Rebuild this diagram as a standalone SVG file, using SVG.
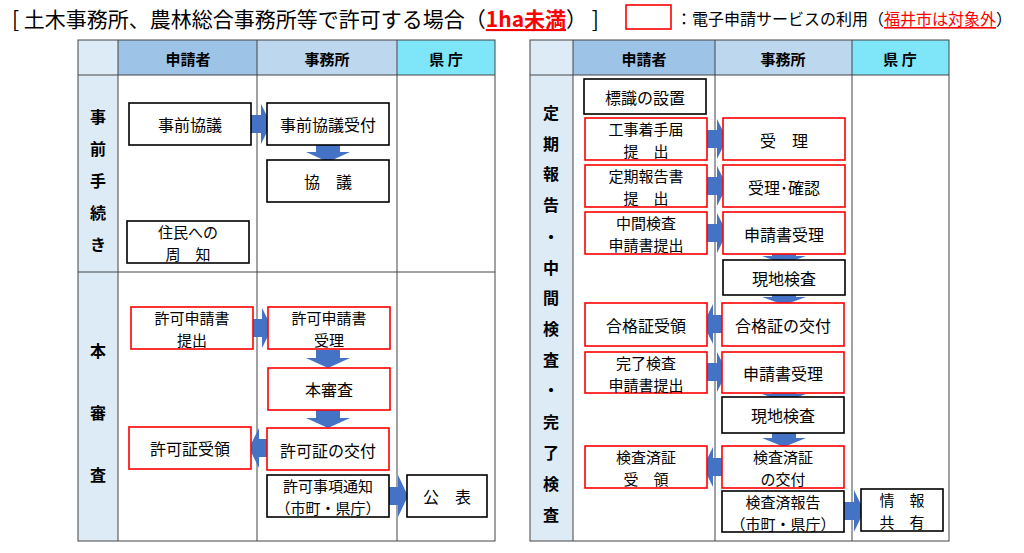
<svg xmlns="http://www.w3.org/2000/svg" width="1024" height="553" viewBox="0 0 1024 553">
<style>
text{font-family:"Noto Sans CJK JP","Noto Sans",sans-serif;font-size:16px;fill:#000;text-anchor:middle;dominant-baseline:central}
.s{font-size:15px}
.t{font-size:21px;text-anchor:start}
.lg{font-size:16px;text-anchor:start}
.vl{font-weight:bold;font-size:16px}
.hd{font-weight:bold;font-size:15px}
.b{fill:#fff;stroke:#000;stroke-width:1.6}
.r{fill:#fff;stroke:#f00;stroke-width:1.6}
.g{fill:none;stroke:#444;stroke-width:1}
.a{fill:#4472C4}
</style>
<rect width="1024" height="553" fill="#fff"/>
<g id="title">
<text class="t" x="12" y="18">[ 土木事務所、農林総合事務所等で許可する場合（<tspan fill="#f00" text-decoration="underline" font-weight="bold">1ha未満</tspan>） ]</text>
<rect x="626" y="5" width="45" height="24" fill="none" stroke="#f00" stroke-width="1.6"/>
<text class="lg" x="676" y="18">：電子申請サービスの利用（<tspan fill="#f00" text-decoration="underline">福井市は対象外</tspan>）</text>
</g>
<g id="left-table">
<rect x="78" y="40" width="40" height="35" fill="#DDEBF7"/>
<rect x="118" y="40" width="139" height="35" fill="#9DC3E6"/>
<rect x="257" y="40" width="140" height="35" fill="#BDD7EE"/>
<rect x="397" y="40" width="98" height="35" fill="#7FE5F8"/>
<rect x="78" y="75" width="40" height="466" fill="#DDEBF7"/>
<rect x="78" y="40" width="417" height="501" class="g"/>
<path class="g" d="M118 40V541M257 40V541M397 40V541M78 75H495M78 272H495"/>
<text class="hd" x="188" y="58">申請者</text><text class="hd" x="327" y="58">事務所</text><text class="hd" x="446" y="58">県 庁</text>
<text class="vl" x="98" y="116">事</text><text class="vl" x="98" y="148">前</text><text class="vl" x="98" y="180">手</text><text class="vl" x="98" y="212">続</text><text class="vl" x="98" y="244">き</text>
<text class="vl" x="98" y="350">本</text><text class="vl" x="98" y="412">審</text><text class="vl" x="98" y="474">査</text>
</g>
<g id="right-table">
<rect x="530" y="40" width="43" height="35" fill="#DDEBF7"/>
<rect x="573" y="40" width="142" height="35" fill="#9DC3E6"/>
<rect x="715" y="40" width="137" height="35" fill="#BDD7EE"/>
<rect x="852" y="40" width="97" height="35" fill="#7FE5F8"/>
<rect x="530" y="75" width="43" height="466" fill="#DDEBF7"/>
<rect x="530" y="40" width="419" height="501" class="g"/>
<path class="g" d="M573 40V541M715 40V541M852 40V541M530 75H949"/>
<text class="hd" x="644" y="58">申請者</text><text class="hd" x="783" y="58">事務所</text><text class="hd" x="900" y="58">県 庁</text>
<text class="vl" x="551" y="112">定</text><text class="vl" x="551" y="143">期</text><text class="vl" x="551" y="173">報</text><text class="vl" x="551" y="204">告</text><text class="vl" x="551" y="236">・</text><text class="vl" x="551" y="267">中</text><text class="vl" x="551" y="297">間</text><text class="vl" x="551" y="328">検</text><text class="vl" x="551" y="359">査</text><text class="vl" x="551" y="389">・</text><text class="vl" x="551" y="421">完</text><text class="vl" x="551" y="452">了</text><text class="vl" x="551" y="483">検</text><text class="vl" x="551" y="514">査</text>
</g>
<g id="connectors">
<path class="a" d="M251 115h10v-11l10 20l-10 20v-11h-10z"/>
<path class="a" d="M316 145h24v7h10l-22 10l-22-10h10z"/>
<path class="a" d="M253 319h9v-11l10 20l-10 20v-11h-9z"/>
<path class="a" d="M316 350h24v8h10l-22 10l-22-10h10z"/>
<path class="a" d="M316 410h24v8h10l-22 10l-22-10h10z"/>
<path class="a" d="M267 439h-8v-11l-10 20l10 20v-11h8z"/>
<path class="a" d="M389 487h9v-12l10 21l-10 21v-12h-9z"/>
<path class="a" d="M707 130h10v-11l10 20l-10 20v-11h-10z"/>
<path class="a" d="M707 177h10v-11l10 20l-10 20v-11h-10z"/>
<path class="a" d="M707 224h10v-11l10 20l-10 20v-11h-10z"/>
<path class="a" d="M772 254h24v2h10l-22 8l-22-8h10z"/>
<path class="a" d="M772 295h24v2h10l-22 8l-22-8h10z"/>
<path class="a" d="M722 315h-9v-11l-10 20l10 20v-11h9z"/>
<path class="a" d="M707 363h10v-11l10 20l-10 20v-11h-10z"/>
<path class="a" d="M772 393h24v1h10l-22 8l-22-8h10z"/>
<path class="a" d="M772 433h24v5h10l-22 9l-22-9h10z"/>
<path class="a" d="M722 458h-9v-11l-10 20l10 20v-11h9z"/>
<path class="a" d="M844 502h10v-12l10 21l-10 21v-12h-10z"/>
</g>
<g id="n1"><rect class="b" x="129" y="103" width="122" height="42"/><text x="190" y="124">事前協議</text></g>
<g id="n2"><rect class="b" x="267" y="103" width="122" height="42"/><text x="328" y="124">事前協議受付</text></g>
<g id="n3"><rect class="b" x="267" y="160" width="122" height="42"/><text x="328" y="181">協　議</text></g>
<g id="n4"><rect class="b" x="127" y="221" width="122" height="42"/><text class="s" x="188" y="231">住民への</text><text class="s" x="188" y="253">周　知</text></g>
<g id="n5"><rect class="r" x="131" y="307" width="122" height="42"/><text class="s" x="192" y="317">許可申請書</text><text class="s" x="192" y="339">提出</text></g>
<g id="n6"><rect class="r" x="268" y="307" width="122" height="42"/><text class="s" x="329" y="317">許可申請書</text><text class="s" x="329" y="339">受理</text></g>
<g id="n7"><rect class="r" x="268" y="368" width="122" height="42"/><text x="329" y="389">本審査</text></g>
<g id="n8"><rect class="r" x="129" y="427" width="122" height="42"/><text x="190" y="448">許可証受領</text></g>
<g id="n9"><rect class="r" x="267" y="428" width="122" height="42"/><text x="328" y="450">許可証の交付</text></g>
<g id="n10"><rect class="b" x="267" y="475" width="122" height="42"/><text class="s" x="328" y="485">許可事項通知</text><text class="s" x="328" y="507">（市町・県庁）</text></g>
<g id="n11"><rect class="b" x="407" y="475" width="80" height="42"/><text x="447" y="496">公　表</text></g>
<g id="m1"><rect class="b" x="584" y="79" width="122" height="35"/><text x="645" y="97">標識の設置</text></g>
<g id="m2"><rect class="r" x="585" y="118" width="122" height="42"/><text class="s" x="646" y="128">工事着手届</text><text class="s" x="646" y="150">提　出</text></g>
<g id="m3"><rect class="r" x="723" y="118" width="122" height="42"/><text x="784" y="140">受　理</text></g>
<g id="m4"><rect class="r" x="585" y="165" width="122" height="42"/><text class="s" x="646" y="175">定期報告書</text><text class="s" x="646" y="197">提　出</text></g>
<g id="m5"><rect class="r" x="723" y="165" width="122" height="42"/><text x="784" y="187">受理･確認</text></g>
<g id="m6"><rect class="r" x="585" y="212" width="122" height="42"/><text class="s" x="646" y="222">中間検査</text><text class="s" x="646" y="244">申請書提出</text></g>
<g id="m7"><rect class="r" x="723" y="212" width="122" height="42"/><text x="784" y="234">申請書受理</text></g>
<g id="m8"><rect class="b" x="723" y="260" width="122" height="35"/><text x="784" y="278">現地検査</text></g>
<g id="m9"><rect class="r" x="585" y="303" width="122" height="43"/><text x="646" y="325">合格証受領</text></g>
<g id="m10"><rect class="r" x="722" y="303" width="122" height="43"/><text x="783" y="325">合格証の交付</text></g>
<g id="m11"><rect class="r" x="585" y="352" width="122" height="41"/><text class="s" x="646" y="362">完了検査</text><text class="s" x="646" y="384">申請書提出</text></g>
<g id="m12"><rect class="r" x="722" y="352" width="122" height="41"/><text x="783" y="373">申請書受理</text></g>
<g id="m13"><rect class="b" x="722" y="397" width="122" height="36"/><text x="783" y="415">現地検査</text></g>
<g id="m14"><rect class="r" x="585" y="446" width="122" height="42"/><text class="s" x="646" y="456">検査済証</text><text class="s" x="646" y="478">受　領</text></g>
<g id="m15"><rect class="r" x="722" y="446" width="122" height="42"/><text class="s" x="783" y="456">検査済証</text><text class="s" x="783" y="478">の交付</text></g>
<g id="m16"><rect class="b" x="722" y="491" width="122" height="41"/><text class="s" x="783" y="501">検査済報告</text><text class="s" x="783" y="523">（市町・県庁）</text></g>
<g id="m17"><rect class="b" x="861" y="489" width="82" height="42"/><text class="s" x="902" y="499">情　報</text><text class="s" x="902" y="521">共　有</text></g>
</svg>
